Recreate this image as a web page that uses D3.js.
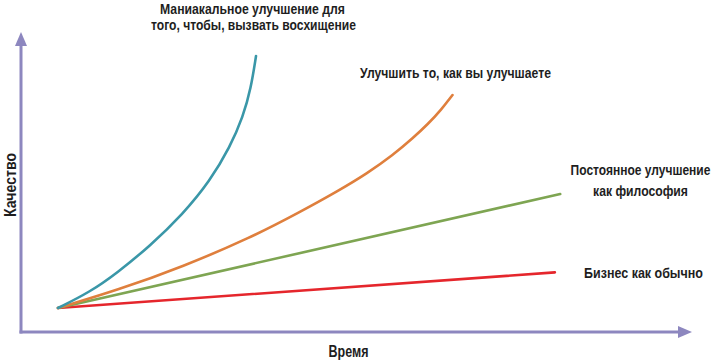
<!DOCTYPE html>
<html><head><meta charset="utf-8">
<script src="https://cdn.jsdelivr.net/npm/d3@7"></script>
<style>
html,body{margin:0;padding:0;background:#fff;}
svg text{font-family:"Liberation Sans","Arial",sans-serif;font-weight:bold;fill:#1e1e1e;}
</style></head>
<body><svg id="c" width="713" height="362"></svg>
<script>
// Data (time t, quality q), arbitrary units 0..100
const seriesNames = ["Маниакальное улучшение", "Улучшить то, как вы улучшаете", "Постоянное улучшение", "Бизнес как обычно"];
const tealT = [5.53, 10.31, 14.35, 19.28, 24.22, 28.25, 31.24, 33.18, 34.38, 35.13];
const tealQ = [8.05, 13.42, 19.80, 28.86, 39.60, 50.67, 62.08, 72.15, 81.88, 92.62];
const orangeT = [5.53, 14.50, 24.22, 34.23, 41.70, 47.38, 51.72, 55.61, 58.59, 60.84, 62.78, 64.50];
const orangeQ = [8.05, 14.09, 21.98, 31.54, 40.27, 47.32, 53.19, 59.40, 65.10, 69.80, 74.50, 79.53];
const greenT = [5.53, 80.6];
const greenQ = [8.05, 46.3];
const redT = [5.53, 79.8];
const redQ = [8.05, 20.0];
const axisLabels = ["Время", "Качество"];

const svg = d3.select("#c");
const x = d3.scaleLinear().domain([0, 100]).range([21, 690]);
const y = d3.scaleLinear().domain([0, 100]).range([332, 34]);

const axisColor = "#8d87bf";
svg.append("line").attr("x1", x(0)).attr("y1", y(0) + 1.5).attr("x2", x(0)).attr("y2", y(100) + 10)
  .attr("stroke", axisColor).attr("stroke-width", 3);
svg.append("line").attr("x1", x(0) - 1.5).attr("y1", y(0)).attr("x2", x(100) - 10).attr("y2", y(0))
  .attr("stroke", axisColor).attr("stroke-width", 3);
svg.append("path").attr("d", `M${x(0)},${y(100)-2} L${x(0)-6},${y(100)+12} L${x(0)+6},${y(100)+12}Z`).attr("fill", axisColor);
svg.append("path").attr("d", `M${x(100)+2},${y(0)} L${x(100)-12},${y(0)-6} L${x(100)-12},${y(0)+6}Z`).attr("fill", axisColor);

const line = d3.line().x(d => x(d[0])).y(d => y(d[1])).curve(d3.curveBasis);
const series = [
  {t: redT, q: redQ, c: "#e5262c"},
  {t: greenT, q: greenQ, c: "#7ea552"},
  {t: orangeT, q: orangeQ, c: "#df7f3d"},
  {t: tealT, q: tealQ, c: "#3a97a8"}
];
series.forEach(s => {
  svg.append("path").datum(d3.zip(s.t, s.q)).attr("d", line)
    .attr("fill", "none").attr("stroke", s.c).attr("stroke-width", 2.6).attr("stroke-linecap", "round");
});

// condensed text: scale horizontally to the target width
function ctext(str, cx, by, width, size, rotate) {
  const t = svg.append("text").attr("text-anchor", "middle").style("font-size", size + "px").text(str);
  const nat = t.node().getComputedTextLength();
  const s = width / nat;
  t.attr("transform", `translate(${cx},${by})` + (rotate ? " rotate(-90)" : "") + ` scale(${s},1)`);
}
ctext("Маниакальное улучшение для", 252.5, 13.5, 185, 14.5);
ctext("того, чтобы, вызвать восхищение", 253.5, 30, 205, 14.5);
ctext("Улучшить то, как вы улучшаете", 455.5, 77.5, 191, 14.5);
ctext("Постоянное улучшение", 640.5, 175, 140, 14.5);
ctext("как философия", 640.5, 195.5, 95, 14.5);
ctext("Бизнес как обычно", 643.5, 278, 119, 14.5);

ctext(axisLabels[0], 348.5, 357, 40, 17);
ctext(axisLabels[1], 16, 185, 64, 16, true);
</script></body></html>
